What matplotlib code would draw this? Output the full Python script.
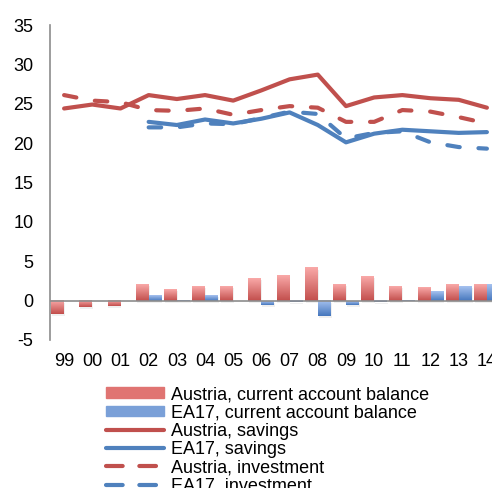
import matplotlib.pyplot as plt
import matplotlib.colors as mcolors
import numpy as np

plt.rcParams['font.family'] = ['Liberation Sans', 'DejaVu Sans']
plt.rcParams['axes.unicode_minus'] = False

# Data
years = ['99', '00', '01', '02', '03', '04', '05', '06', '07', '08',
         '09', '10', '11', '12', '13', '14']
at_ca = [-1.7, -0.8, -0.7, 2.1, 1.5, 1.9, 1.9, 2.9, 3.3, 4.2,
         2.1, 3.1, 1.9, 1.7, 2.1, 2.1]
ea_ca = [np.nan, np.nan, np.nan, 0.7, 0.1, 0.7, 0.0, -0.5, -0.2, -2.0,
         -0.5, -0.2, -0.1, 1.2, 1.9, 2.1]
at_sav = [24.4, 24.9, 24.4, 26.1, 25.6, 26.1, 25.4, 26.7, 28.1, 28.7,
          24.7, 25.8, 26.1, 25.7, 25.5, 24.5]
ea_sav = [np.nan, np.nan, np.nan, 22.7, 22.3, 23.0, 22.5, 23.1, 23.9, 22.3,
          20.1, 21.2, 21.7, 21.5, 21.3, 21.4]
at_inv = [26.1, 25.4, 25.2, 24.2, 24.1, 24.4, 23.6, 24.2, 24.7, 24.5,
          22.7, 22.7, 24.2, 24.0, 23.3, 22.5]
ea_inv = [np.nan, np.nan, np.nan, 22.0, 22.0, 22.5, 22.4, 23.2, 24.0, 23.7,
          20.6, 21.3, 21.5, 20.1, 19.5, 19.3]

red = '#c0504d'
blue = '#4f81bd'

fig = plt.figure(figsize=(4.92, 4.88), dpi=100)
ax = fig.add_axes([50 / 492, 1 - 340 / 488, 451 / 492, 315 / 488])

x = np.arange(len(years))
w = 0.46

# Bars with a vertical gradient (light top, dark bottom)
grad = np.linspace(0, 1, 64).reshape(-1, 1)
for vals, off, c_top, c_bot in [(at_ca, -w / 2, '#f9a9a8', '#c24e4c'),
                                (ea_ca, w / 2, '#a6c2f0', '#4677bd')]:
    cmap = mcolors.LinearSegmentedColormap.from_list('g', [c_top, c_bot])
    bars = ax.bar(x + off, vals, width=w, color='none', edgecolor='none')
    for b in bars:
        h = b.get_height()
        if np.isnan(h) or abs(h) < 1e-9:
            continue
        x0, y0 = b.get_x(), b.get_y()
        y_lo, y_hi = min(y0, y0 + h), max(y0, y0 + h)
        # soft shadow
        ax.add_patch(plt.Rectangle((x0 + 0.03, y_lo - 0.25), w, y_hi - y_lo,
                                   color='#000000', alpha=0.06, lw=0, zorder=1))
        ax.imshow(grad, cmap=cmap, aspect='auto', extent=(x0, x0 + w, y_lo, y_hi),
                  origin='upper', zorder=2)

ax.axhline(0, color='#8c8c8c', lw=1.2, zorder=3)

lw = 3
ax.plot(x, at_sav, color=red, lw=lw, zorder=4, solid_capstyle='round')
ax.plot(x, ea_sav, color=blue, lw=lw, zorder=4, solid_capstyle='round')
ax.plot(x, at_inv, color=red, lw=lw, zorder=4, dashes=(3, 4.5), dash_capstyle='round')
ax.plot(x, ea_inv, color=blue, lw=lw, zorder=4, dashes=(3, 4.5), dash_capstyle='round')

ax.set_xlim(-0.5, len(years) - 0.5)
ax.set_ylim(-5, 35)
ax.set_yticks(np.arange(-5, 36, 5))
ax.set_xticks(x)
ax.set_xticklabels(years)
ax.tick_params(axis='both', length=0, labelsize=13, colors='#000000')
ax.tick_params(axis='x', pad=9)
ax.tick_params(axis='y', pad=12)
for s in ['top', 'right', 'bottom']:
    ax.spines[s].set_visible(False)
ax.spines['left'].set_color('#8c8c8c')
ax.spines['left'].set_linewidth(1.2)

# Legend
handles = [
    plt.Rectangle((0, 0), 1, 1, color='#e07472'),
    plt.Rectangle((0, 0), 1, 1, color='#7aa0d8'),
    plt.Line2D([], [], color=red, lw=lw, solid_capstyle='round'),
    plt.Line2D([], [], color=blue, lw=lw, solid_capstyle='round'),
    plt.Line2D([], [], color=red, lw=lw, dashes=(4, 4), dash_capstyle='round'),
    plt.Line2D([], [], color=blue, lw=lw, dashes=(4, 4), dash_capstyle='round'),
]
labels = ['Austria, current account balance', 'EA17, current account balance',
          'Austria, savings', 'EA17, savings',
          'Austria, investment', 'EA17, investment']
fig.legend(handles, labels, loc='upper left', bbox_to_anchor=(97 / 492, 1 - 377 / 488),
           frameon=False, fontsize=13, handlelength=3.2, handleheight=0.5,
           labelspacing=0.07, handletextpad=0.4, borderpad=0)

fig.savefig('out.png', dpi=100)
